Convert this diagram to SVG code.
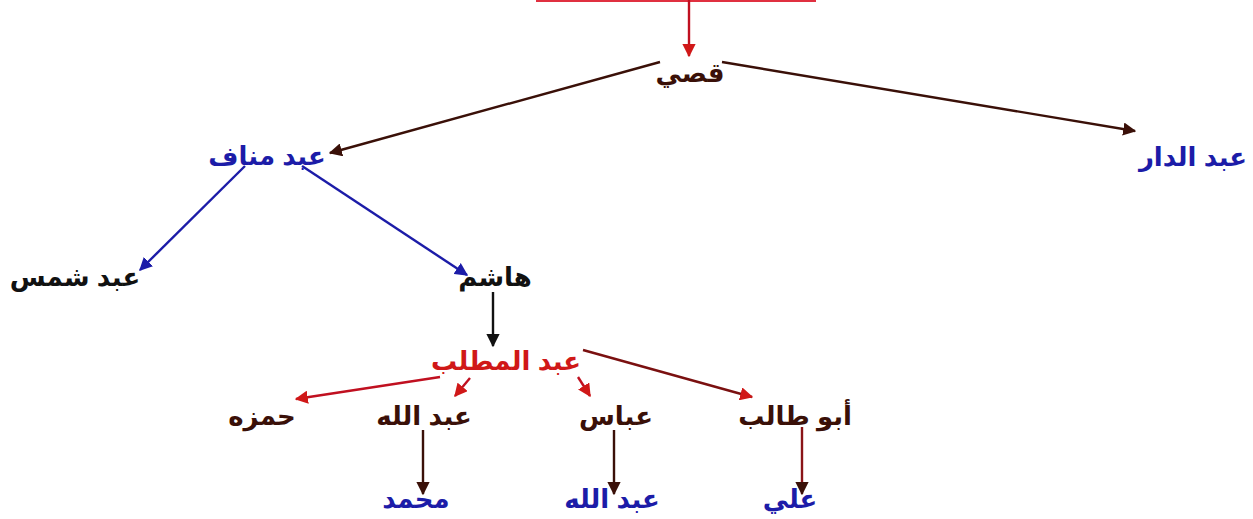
<svg xmlns="http://www.w3.org/2000/svg" width="1253" height="519" viewBox="0 0 1253 519">
<style>
text{font-family:"Liberation Sans","DejaVu Sans",sans-serif;font-weight:bold;font-size:26px;text-anchor:middle}
.blue{fill:#1c1ca8}
.black{fill:#111}
.red{fill:#d01818}
.maroon{fill:#3a1008}
.c{fill:none;stroke-width:2.4}
</style>
<defs>
<marker id="aRed" viewBox="0 0 10 10" refX="9" refY="5" markerWidth="5.5" markerHeight="5.5" orient="auto"><path d="M0,0L10,5L0,10z" fill="#d01818"/></marker>
<marker id="aBrown" viewBox="0 0 10 10" refX="9" refY="5" markerWidth="5.5" markerHeight="5.5" orient="auto"><path d="M0,0L10,5L0,10z" fill="#3a1008"/></marker>
<marker id="aBlue" viewBox="0 0 10 10" refX="9" refY="5" markerWidth="5.5" markerHeight="5.5" orient="auto"><path d="M0,0L10,5L0,10z" fill="#1c1ca8"/></marker>
<marker id="aBlack" viewBox="0 0 10 10" refX="9" refY="5" markerWidth="5.5" markerHeight="5.5" orient="auto"><path d="M0,0L10,5L0,10z" fill="#111"/></marker>
</defs>
<rect width="1253" height="519" fill="#fff"/>
<rect x="537" y="-30" width="278" height="31" fill="none" stroke="#e03040" stroke-width="2"/>
<g id="connectors">
<line class="c" x1="689" y1="0" x2="689" y2="56" stroke="#c01020" marker-end="url(#aRed)"/>
<line class="c" x1="660" y1="62" x2="330" y2="153" stroke="#3a1008" marker-end="url(#aBrown)"/>
<line class="c" x1="722" y1="62" x2="1135" y2="131" stroke="#3a1008" marker-end="url(#aBrown)"/>
<line class="c" x1="245" y1="166" x2="140" y2="270" stroke="#1c1ca8" marker-end="url(#aBlue)"/>
<line class="c" x1="302" y1="166" x2="467" y2="275" stroke="#1c1ca8" marker-end="url(#aBlue)"/>
<line class="c" x1="493" y1="292" x2="493" y2="346" stroke="#111" marker-end="url(#aBlack)"/>
<line class="c" x1="440" y1="377" x2="296" y2="399" stroke="#c01020" marker-end="url(#aRed)"/>
<line class="c" x1="470" y1="378" x2="455" y2="396" stroke="#c01020" marker-end="url(#aRed)"/>
<line class="c" x1="578" y1="377" x2="590" y2="396" stroke="#c01020" marker-end="url(#aRed)"/>
<line class="c" x1="583" y1="350" x2="752" y2="397" stroke="#7a1010" marker-end="url(#aRed)"/>
<line class="c" x1="423" y1="430" x2="423" y2="494" stroke="#3a1008" marker-end="url(#aBrown)"/>
<line class="c" x1="614" y1="430" x2="614" y2="494" stroke="#3a1008" marker-end="url(#aBrown)"/>
<line class="c" x1="802" y1="427" x2="802" y2="494" stroke="#8a1418" marker-end="url(#aBrown)"/>
</g>
<g id="qusay"><text class="maroon" x="690" y="82">قصي</text></g>
<g id="abd-manaf"><text class="blue" x="267" y="165">عبد مناف</text></g>
<g id="abd-aldar"><text class="blue" x="1193" y="166">عبد الدار</text></g>
<g id="abd-shams"><text class="black" x="75" y="286">عبد شمس</text></g>
<g id="hashim"><text class="black" x="495" y="286">هاشم</text></g>
<g id="abd-almuttalib"><text class="red" x="506" y="370">عبد المطلب</text></g>
<g id="hamza"><text class="maroon" x="262" y="425">حمزه</text></g>
<g id="abdullah1"><text class="maroon" x="424" y="425">عبد الله</text></g>
<g id="abbas"><text class="maroon" x="616" y="425">عباس</text></g>
<g id="abu-talib"><text class="maroon" x="795" y="425">أبو طالب</text></g>
<g id="muhammad"><text class="blue" x="416" y="508">محمد</text></g>
<g id="abdullah2"><text class="blue" x="612" y="508">عبد الله</text></g>
<g id="ali"><text class="blue" x="790" y="508">علي</text></g>
</svg>
